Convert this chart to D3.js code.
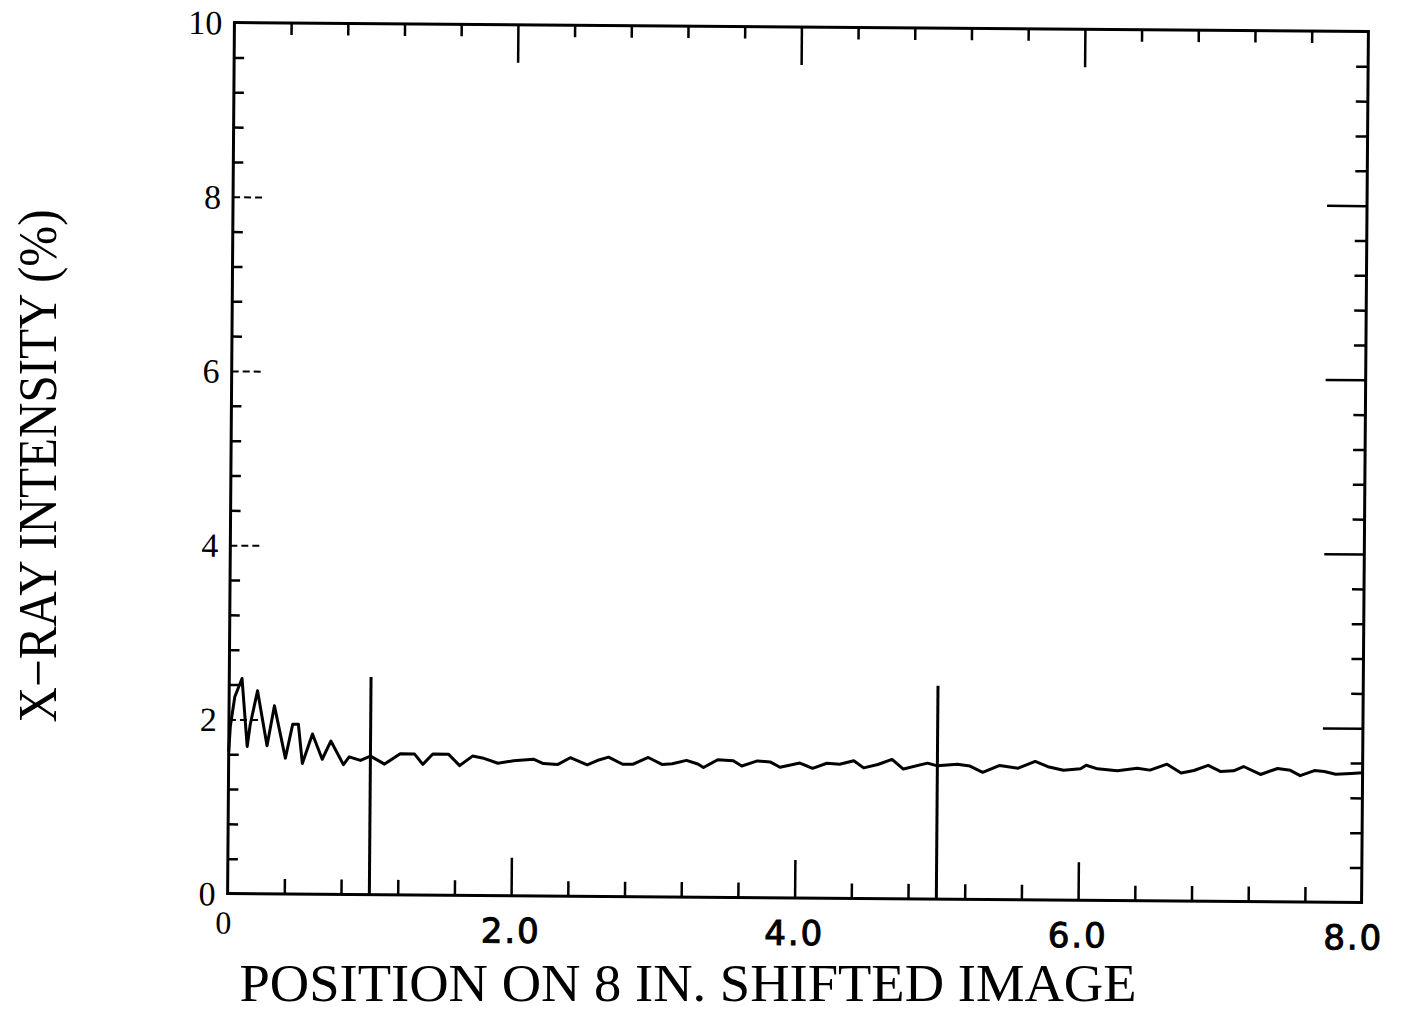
<!DOCTYPE html>
<html>
<head>
<meta charset="utf-8">
<script src="https://cdnjs.cloudflare.com/ajax/libs/d3/7.8.5/d3.min.js"></script>
<style>
	body { margin: 0; background: #fff; }
	svg { display: block; background: #fff; }
	.frame { fill: none; stroke: #000; stroke-width: 3; }
	.tick line { stroke: #000; stroke-width: 2.5; }
	.major_left .tick line { stroke-dasharray: 7,4; stroke-width: 2; }
	.curve { fill: none; stroke: #000; stroke-width: 3; stroke-linejoin: round; }
	.marker { stroke: #000; stroke-width: 3; }
	.serif { font-family: "Liberation Serif", "DejaVu Serif", serif; fill: #000; }
	.sans { font-family: "DejaVu Sans", sans-serif; fill: #000; stroke: #000; stroke-width: 1; letter-spacing: 2px; }
</style>
</head>
<body>
<svg id="chart" width="1405" height="1025"></svg>
<script>
//values (position in inches, intensity in %)
var positions = [0.00, 0.01, 0.04, 0.09, 0.13, 0.15, 0.20, 0.27, 0.32, 0.40, 0.45, 0.49, 0.52, 0.59, 0.66, 0.72, 0.81, 0.85, 0.93,
	1.00, 1.10, 1.21, 1.31, 1.37, 1.44, 1.55, 1.63, 1.72, 1.79, 1.90, 2.01, 2.15, 2.22, 2.32, 2.41, 2.53, 2.60, 2.68, 2.78, 2.85, 2.96,
	3.06, 3.13, 3.23, 3.31, 3.35, 3.45, 3.56, 3.62, 3.73, 3.82, 3.89, 4.03, 4.12, 4.22, 4.31, 4.41, 4.48, 4.58, 4.68, 4.76, 4.93,
	5.00, 5.14, 5.23, 5.32, 5.44, 5.57, 5.69, 5.78, 5.89, 6.01, 6.05, 6.13, 6.27, 6.41, 6.50, 6.62, 6.72, 6.81, 6.91,
	7.00, 7.09, 7.16, 7.28, 7.40, 7.49, 7.56, 7.66, 7.73, 7.81, 7.92, 8.00];
var intensities = [1.63, 1.92, 2.26, 2.47, 1.69, 1.94, 2.33, 1.70, 2.16, 1.56, 1.95, 1.95, 1.50, 1.84, 1.55, 1.76, 1.49, 1.58, 1.54,
	1.59, 1.50, 1.62, 1.62, 1.50, 1.62, 1.62, 1.49, 1.60, 1.58, 1.52, 1.55, 1.57, 1.52, 1.51, 1.59, 1.51, 1.56, 1.60, 1.52, 1.52, 1.60,
	1.52, 1.53, 1.57, 1.53, 1.49, 1.58, 1.57, 1.51, 1.57, 1.56, 1.50, 1.55, 1.49, 1.55, 1.54, 1.58, 1.50, 1.54, 1.60, 1.49, 1.56,
	1.53, 1.55, 1.53, 1.46, 1.54, 1.51, 1.59, 1.53, 1.49, 1.51, 1.55, 1.51, 1.49, 1.52, 1.50, 1.57, 1.47, 1.50, 1.56,
	1.49, 1.50, 1.55, 1.46, 1.53, 1.51, 1.45, 1.51, 1.50, 1.47, 1.48, 1.49];

//the two vertical reference lines
var markerPositions = [1.0, 5.0];
var markerHeights = [2.50, 2.45];

var xTickValues = [0, 2, 4, 6, 8];
var xTickLabels = ["0", "2.0", "4.0", "6.0", "8.0"];
var yTickValues = [0, 2, 4, 6, 8, 10];
var yTickLabels = ["0", "2", "4", "6", "8", "10"];

var xTitle = "POSITION ON 8 IN. SHIFTED IMAGE";
var yTitle = "X\u2212RAY INTENSITY (%)";

var margin = {left: 231, top: 27};
var graph_w = 1134, graph_h = 871;
var tilt = 0.45; //the scan is slightly rotated

var svg = d3.select('#chart');
var g = svg.append('g')
	.attr('transform', 'rotate(' + tilt + ',' + (margin.left + graph_w / 2) + ',' + (margin.top + graph_h / 2) + ') translate(' + margin.left + ',' + margin.top + ')');

var x = d3.scaleLinear().domain([0, 8]).range([0, graph_w]);
var y = d3.scaleLinear().domain([0, 10]).range([graph_h, 0]);

//minor ticks every 0.4, majors every 2
var xMinor = d3.range(1, 20).filter(function(i) { return i % 5 != 0; }).map(function(i) { return i * 0.4; });
var yMinor = d3.range(1, 25).filter(function(i) { return i % 5 != 0; }).map(function(i) { return i * 0.4; });
var xMajor = xTickValues.slice(1, -1);
var yMajor = yTickValues.slice(1, -1);

function addTicks(axis, values, size, cls, transform) {
	var a = g.append('g')
		.attr('class', cls)
		.attr('transform', transform || null)
		.call(axis.tickValues(values).tickSize(-size).tickFormat(''));
	a.select('.domain').remove();
	return a;
}

addTicks(d3.axisBottom(x), xMinor, 15, 'minor_bottom', 'translate(0,' + graph_h + ')');
addTicks(d3.axisBottom(x), xMajor, 38, 'major_bottom', 'translate(0,' + graph_h + ')');
addTicks(d3.axisTop(x), xMinor, 12, 'minor_top');
addTicks(d3.axisTop(x), xMajor, 38, 'major_top');
addTicks(d3.axisLeft(y), yMinor, 10, 'minor_left');
addTicks(d3.axisLeft(y), yMajor, 30, 'major_left');
addTicks(d3.axisRight(y), yMinor, 12, 'minor_right', 'translate(' + graph_w + ',0)');
addTicks(d3.axisRight(y), yMajor, 40, 'major_right', 'translate(' + graph_w + ',0)');

g.append('rect')
	.attr('class', 'frame')
	.attr('x', 0)
	.attr('y', 0)
	.attr('width', graph_w)
	.attr('height', graph_h);

//vertical markers
g.selectAll('.marker')
	.data(markerPositions)
	.enter().append('line')
	.attr('class', 'marker')
	.attr('x1', function(d) { return x(d); })
	.attr('x2', function(d) { return x(d); })
	.attr('y1', y(0))
	.attr('y2', function(d, i) { return y(markerHeights[i]); });

var line = d3.line()
	.x(function(d) { return x(d); })
	.y(function(d, i) { return y(intensities[i]); });

g.append('path')
	.datum(positions)
	.attr('class', 'curve')
	.attr('d', line);

//y tick labels
g.selectAll('.ylabel')
	.data(yTickValues)
	.enter().append('text')
	.attr('class', 'ylabel serif')
	.attr('x', -12)
	.attr('y', function(d) { return y(d); })
	.attr('dy', '0.35em')
	.attr('text-anchor', 'end')
	.attr('font-size', 34)
	.text(function(d, i) { return yTickLabels[i]; });

//x tick labels: the 0 is typeset, the rest are lettered
g.selectAll('.xlabel')
	.data(xTickValues)
	.enter().append('text')
	.attr('class', function(d, i) { return i == 0 ? 'xlabel serif' : 'xlabel sans'; })
	.attr('x', function(d, i) { return x(d) - (i == 0 ? 4 : (i == 4 ? 8 : 0)); })
	.attr('y', function(d, i) { return graph_h + (i == 0 ? 40 : 47); })
	.attr('text-anchor', 'middle')
	.attr('font-size', function(d, i) { return i == 0 ? 32 : 34; })
	.text(function(d, i) { return xTickLabels[i]; });

svg.append('text')
	.attr('class', 'serif')
	.attr('x', 688)
	.attr('y', 1001)
	.attr('text-anchor', 'middle')
	.attr('font-size', 52)
	.attr('textLength', 897)
	.attr('lengthAdjust', 'spacingAndGlyphs')
	.text(xTitle);

svg.append('text')
	.attr('class', 'serif')
	.attr('transform', 'translate(56,466) rotate(-90)')
	.attr('text-anchor', 'middle')
	.attr('font-size', 54)
	.attr('textLength', 513)
	.attr('lengthAdjust', 'spacingAndGlyphs')
	.text(yTitle);
</script>
</body>
</html>
